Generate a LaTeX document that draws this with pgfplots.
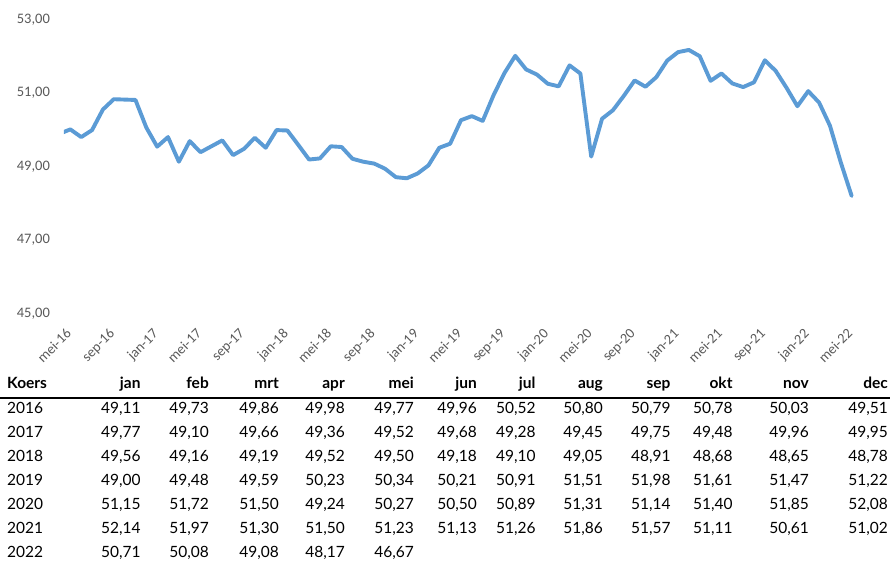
\documentclass[border=0pt]{standalone}
\usepackage{pgfplots}
\pgfplotsset{compat=1.18}
\usepackage{fontspec}
\setmainfont{Lato}
\newfontfamily\carlito{Carlito}
\definecolor{lineblue}{HTML}{5B9BD5}
\definecolor{labgray}{HTML}{595959}
\newcommand\tabfont{\fontsize{15.5}{18}\selectfont}
\def\colxs{{140.7,209,279,345,414,477,535.7,603,670.7,732.7,809,888}}
\newcommand\tabrow[3]{%
  \node[anchor=base west,inner sep=0pt,font=\tabfont] at (7pt,-#1pt) {#2};
  \foreach \v [count=\c] in {#3} {%
    \pgfmathsetmacro\cx{\colxs[\c-1]}%
    \node[anchor=base east,inner sep=0pt,font=\tabfont] at (\cx pt,-#1pt) {\v};
  }%
}
\begin{document}
\begin{tikzpicture}
\path[use as bounding box] (0pt,0pt) rectangle (890pt,-560pt);
\begin{axis}[
  at={(63.84pt,-312.5pt)}, anchor=south west,
  scale only axis, width=803pt, height=294.2pt,
  xmin=0.4, xmax=74.4, ymin=45, ymax=53,
  axis line style={draw=none},
  major tick length=0pt,
  ytick={45,47,49,51,53},
  yticklabels={{45,00},{47,00},{49,00},{51,00},{53,00}},
  yticklabel style={font=\carlito\fontsize{14.5}{17}\selectfont, text=labgray, anchor=base east, inner sep=0pt, xshift=-13.8pt, yshift=-5pt},
  xtick=\empty,
]
\addplot[lineblue, line width=3.9pt, line join=round, line cap=round] table {
x y
0 49.86
1 49.98
2 49.77
3 49.96
4 50.52
5 50.80
6 50.79
7 50.78
8 50.03
9 49.51
10 49.77
11 49.10
12 49.66
13 49.36
14 49.52
15 49.68
16 49.28
17 49.45
18 49.75
19 49.48
20 49.96
21 49.95
22 49.56
23 49.16
24 49.19
25 49.52
26 49.50
27 49.18
28 49.10
29 49.05
30 48.91
31 48.68
32 48.65
33 48.78
34 49.00
35 49.48
36 49.59
37 50.23
38 50.34
39 50.21
40 50.91
41 51.51
42 51.98
43 51.61
44 51.47
45 51.22
46 51.15
47 51.72
48 51.50
49 49.24
50 50.27
51 50.50
52 50.89
53 51.31
54 51.14
55 51.40
56 51.85
57 52.08
58 52.14
59 51.97
60 51.30
61 51.50
62 51.23
63 51.13
64 51.26
65 51.86
66 51.57
67 51.11
68 50.61
69 51.02
70 50.71
71 50.08
72 49.08
73 48.17
};
\end{axis}
% x tick labels (every 4 months)
\foreach \lab [count=\k from 0] in {mei-16,sep-16,jan-17,mei-17,sep-17,jan-18,mei-18,sep-18,jan-19,mei-19,sep-19,jan-20,mei-20,sep-20,jan-21,mei-21,sep-21,jan-22,mei-22} {%
  \pgfmathsetmacro\lx{65+43.4*\k}%
  \node[rotate=45, anchor=north east, inner sep=0pt, font=\carlito\fontsize{14.3}{16}\selectfont, text=labgray] at (\lx pt,-327.5pt) {\lab};
}
% table header
\node[anchor=base west,inner sep=0pt,font=\tabfont\bfseries] at (7pt,-388.3pt) {Koers};
\foreach \m [count=\c] in {jan,feb,mrt,apr,mei,jun,jul,aug,sep,okt,nov,dec} {%
  \pgfmathsetmacro\cx{\colxs[\c-1]}%
  \node[anchor=base east,inner sep=0pt,font=\tabfont\bfseries] at (\cx pt,-388.3pt) {\m};
}
\draw[line width=2pt, black] (0pt,-397.7pt) -- (890pt,-397.7pt);
\tabrow{413.3}{2016}{{49,11},{49,73},{49,86},{49,98},{49,77},{49,96},{50,52},{50,80},{50,79},{50,78},{50,03},{49,51}}
\tabrow{437.3}{2017}{{49,77},{49,10},{49,66},{49,36},{49,52},{49,68},{49,28},{49,45},{49,75},{49,48},{49,96},{49,95}}
\tabrow{461.3}{2018}{{49,56},{49,16},{49,19},{49,52},{49,50},{49,18},{49,10},{49,05},{48,91},{48,68},{48,65},{48,78}}
\tabrow{485.3}{2019}{{49,00},{49,48},{49,59},{50,23},{50,34},{50,21},{50,91},{51,51},{51,98},{51,61},{51,47},{51,22}}
\tabrow{509.3}{2020}{{51,15},{51,72},{51,50},{49,24},{50,27},{50,50},{50,89},{51,31},{51,14},{51,40},{51,85},{52,08}}
\tabrow{533.3}{2021}{{52,14},{51,97},{51,30},{51,50},{51,23},{51,13},{51,26},{51,86},{51,57},{51,11},{50,61},{51,02}}
\tabrow{557.3}{2022}{{50,71},{50,08},{49,08},{48,17},{46,67}}
\end{tikzpicture}
\end{document}
